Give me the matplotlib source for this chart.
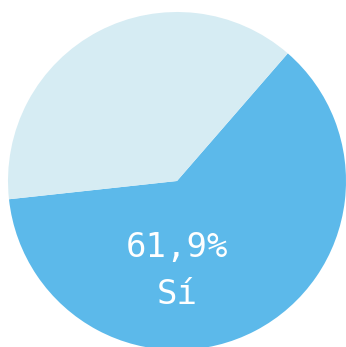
import matplotlib
matplotlib.use('Agg')
from matplotlib import pyplot as plt

labels = ['Sí', 'No']
values = [61.9, 38.1]
colors = ['#5cb9ea', '#d6ecf3']

W, H = 346, 347
cx, cy, r = 177, H - 181, 169

fig = plt.figure(figsize=(W/100, H/100), dpi=100)
ax = fig.add_axes([0, 0, 1, 1])
ax.pie(values, colors=colors, startangle=186.2, counterclock=True,
       center=(cx, cy), radius=r, frame=True,
       wedgeprops=dict(linewidth=0))
ax.set_xlim(0, W)
ax.set_ylim(0, H)
ax.set_aspect('equal')
ax.axis('off')

pct = '{:.1f}%'.format(values[0]).replace('.', ',')
font = dict(family=['DejaVu Sans Mono'], color='white',
            fontsize=24.5, ha='center', va='center')
ax.text(cx, H - 248, pct, **font)
ax.text(cx, H - 295, labels[0], **font)

plt.savefig('out.png', dpi=100)
